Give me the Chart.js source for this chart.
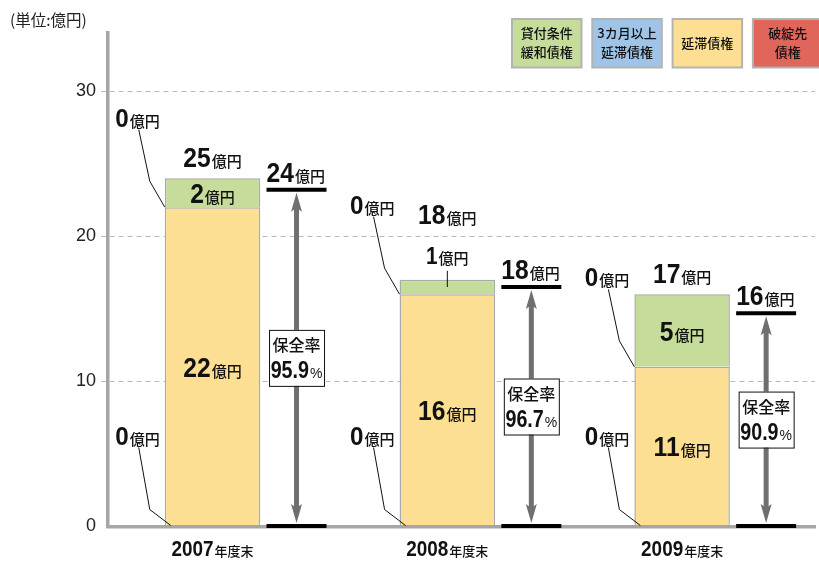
<!DOCTYPE html>
<html><head><meta charset="utf-8">
<script src="https://cdn.jsdelivr.net/npm/chart.js@4"></script>
<style>html,body{margin:0;padding:0;background:#fff}#wrap{width:819px;height:561px}</style>
</head><body><div id="wrap"><canvas id="c" width="819" height="561"></canvas></div>
<script>
// ---- data ----
const years = ['2007', '2008', '2009'];
const yearSuffix = '年度末';
const hatan = [0, 0, 0];          // 破綻先債権
const entai = [22, 16, 11];       // 延滞債権
const sankagetsu = [0, 0, 0];     // 3カ月以上延滞債権
const kanwa = [2, 1, 5];          // 貸付条件緩和債権
const totals = [25, 18, 17];      // 合計（表示値）
const securedPos = [23.2, 16.5, 14.7];   // 保全額の線の位置（図から読取）
const securedLabels = [24, 18, 16];      // 保全額（表示値）
const coverage = ['95.9', '96.7', '90.9']; // 保全率
const yTicks = [0, 10, 20, 30];
const unitText = '(単位:億円)';
const legendLines = {
  '破綻先債権': ['破綻先', '債権'],
  '延滞債権': ['延滞債権'],
  '3カ月以上延滞債権': ['3カ月以上', '延滞債権'],
  '貸付条件緩和債権': ['貸付条件', '緩和債権']
};

const xs = years.map((_, i) => i + 1);
const pts = arr => arr.map((v, i) => ({ x: xs[i], y: v }));
const CAT = 0.7155;
const barCommon = { stack: 'a', borderColor: '#a9a9a9', borderWidth: 1.5, barPercentage: 1.137, categoryPercentage: CAT };

const NUMF = s => `bold ${s}px "Liberation Sans", Arial, sans-serif`;
const CJKF = (s, w = 500) => `${w} ${s}px "Noto Sans CJK JP", sans-serif`;

function drawLabel(ctx, num, suf, x, baseline, ns, sufFont, align, sx) {
  ctx.save();
  ctx.font = NUMF(ns);
  const w1 = ctx.measureText(num).width * sx;
  ctx.font = sufFont;
  const w2 = ctx.measureText(suf).width;
  const total = w1 + 1 + w2;
  const left = align === 'center' ? x - total / 2 : (align === 'left' ? x : x - total);
  ctx.fillStyle = '#111';
  ctx.textAlign = 'left';
  ctx.textBaseline = 'alphabetic';
  ctx.save();
  ctx.font = NUMF(ns);
  ctx.translate(left, baseline);
  ctx.scale(sx, 1);
  ctx.fillText(num, 0, 0);
  ctx.restore();
  ctx.font = sufFont;
  ctx.fillText(suf, left + w1 + 1, baseline);
  ctx.restore();
}

function line(ctx, pts, w, c) {
  ctx.save();
  ctx.strokeStyle = c; ctx.lineWidth = w;
  ctx.beginPath();
  pts.forEach((p, i) => i ? ctx.lineTo(p[0], p[1]) : ctx.moveTo(p[0], p[1]));
  ctx.stroke();
  ctx.restore();
}

const overlay = {
  id: 'overlay',
  afterDraw(chart) {
    const ctx = chart.ctx;
    const ds = chart.data.datasets;
    // unit
    ctx.save();
    ctx.fillStyle = '#222';
    ctx.font = CJKF(15.5, 400);
    ctx.textBaseline = 'middle';
    ctx.fillText(unitText, 10, 20);
    ctx.restore();

    // legend boxes (top of stack first)
    const order = [3, 2, 1, 0];
    order.forEach((d, k) => {
      const left = 512 + k * 80.3, top = 19, w = 69.5, h = 48.5;
      ctx.save();
      ctx.fillStyle = ds[d].backgroundColor;
      ctx.fillRect(left, top, w, h);
      ctx.strokeStyle = '#b3b3b3'; ctx.lineWidth = 2;
      ctx.strokeRect(left, top, w, h);
      ctx.fillStyle = '#111';
      ctx.font = CJKF(13, 500);
      ctx.textAlign = 'center'; ctx.textBaseline = 'middle';
      const ls = legendLines[ds[d].label];
      if (ls.length === 1) ctx.fillText(ls[0], left + w / 2, top + 24);
      else { ctx.fillText(ls[0], left + w / 2, top + 14.5); ctx.fillText(ls[1], left + w / 2, top + 33.5); }
      ctx.restore();
    });

    years.forEach((yr, i) => {
      const els = [0, 1, 2, 3].map(d => chart.getDatasetMeta(d).data[i]);
      const cx = els[1].x;
      const L = cx - els[1].width / 2;
      const topY = Math.min(...els.map(e => e.y));
      let smallBase = null;

      // zero-value segments: external labels with leaders
      [0, 2].forEach(d => {
        const v = ds[d].data[i].y;
        if (v !== 0) return;
        const el = els[d];
        const ay = el.y;
        const bl = d === 0 ? ay - 82 : ay - 80.5;
        drawLabel(ctx, String(v), '億円', L - 49.5, bl, 25, CJKF(15), 'left', 0.97);
        if (d === 0) line(ctx, [[L - 26, bl + 3], [L - 15, ay - 17], [L + 6, ay - 1]], 1, '#111');
        else line(ctx, [[L - 26, bl + 3], [L - 15, ay - 26], [L, ay]], 1, '#111');
      });

      // positive segments
      [1, 3].forEach(d => {
        const v = ds[d].data[i].y;
        if (!(v > 0)) return;
        const el = els[d];
        const h = el.base - el.y;
        const my = (el.y + el.base) / 2;
        if (h >= 24) {
          drawLabel(ctx, String(v), '億円', cx, my + 10, 28, CJKF(15), 'center', 0.88);
        } else {
          smallBase = topY - 16;
          drawLabel(ctx, String(v), '億円', cx, smallBase, 23, CJKF(15), 'center', 0.9);
          line(ctx, [[cx, smallBase + 7], [cx, my]], 1, '#111');
        }
      });

      // total
      const tb = smallBase !== null ? smallBase - 40 : topY - 11;
      drawLabel(ctx, String(totals[i]), '億円', cx, tb, 28, CJKF(15), 'center', 0.88);

      // secured amount marker
      const s = chart.getDatasetMeta(4).data[i];
      const ax = s.x, sw = s.width;
      const sl = ax - sw / 2;
      ctx.save();
      ctx.fillStyle = '#6f6f6f';
      const tTop = s.y + 3, tBot = s.base - 3;
      ctx.fillRect(ax - 2.5, tTop + 14, 5, tBot - tTop - 28);
      ctx.beginPath();
      ctx.moveTo(ax, tTop); ctx.lineTo(ax + 5.5, tTop + 19); ctx.lineTo(ax, tTop + 15); ctx.lineTo(ax - 5.5, tTop + 19); ctx.closePath();
      ctx.fill();
      ctx.beginPath();
      ctx.moveTo(ax, tBot); ctx.lineTo(ax + 5.5, tBot - 19); ctx.lineTo(ax, tBot - 15); ctx.lineTo(ax - 5.5, tBot - 19); ctx.closePath();
      ctx.fill();
      ctx.restore();
      line(ctx, [[sl, s.y], [sl + sw, s.y]], 4, '#000');
      line(ctx, [[sl, s.base], [sl + sw, s.base]], 4, '#000');
      drawLabel(ctx, String(securedLabels[i]), '億円', sl, s.y - 8, 28, CJKF(15), 'left', 0.88);

      // coverage box
      const mid = (s.y + s.base) / 2;
      ctx.save();
      ctx.fillStyle = '#fff';
      ctx.fillRect(ax - 27.5, mid - 28, 55, 56);
      ctx.strokeStyle = '#111'; ctx.lineWidth = 1;
      ctx.strokeRect(ax - 27.5 + 0.5, mid - 28 + 0.5, 55, 56);
      ctx.fillStyle = '#111';
      ctx.font = CJKF(16, 500);
      ctx.textAlign = 'center'; ctx.textBaseline = 'middle';
      ctx.fillText('保全率', ax, mid - 13);
      ctx.restore();
      drawLabel(ctx, coverage[i], '%', ax, mid + 20, 24, '14px "Liberation Sans", Arial, sans-serif', 'center', 0.82);

      // category label
      drawLabel(ctx, yr, yearSuffix, cx, 556, 22, CJKF(13), 'center', 0.86);
    });
  }
};

new Chart(document.getElementById('c'), {
  type: 'bar',
  data: {
    datasets: [
      { label: '破綻先債権', data: pts(hatan), backgroundColor: '#e0655b', ...barCommon },
      { label: '延滞債権', data: pts(entai), backgroundColor: '#fddf93', ...barCommon },
      { label: '3カ月以上延滞債権', data: pts(sankagetsu), backgroundColor: '#9fc4e7', ...barCommon },
      { label: '貸付条件緩和債権', data: pts(kanwa), backgroundColor: '#c5dc9b', ...barCommon },
      { label: '保全額', data: pts(securedPos), stack: 'b', backgroundColor: 'rgba(0,0,0,0)', borderWidth: 0, barPercentage: 0.714, categoryPercentage: CAT }
    ]
  },
  options: {
    responsive: false,
    devicePixelRatio: 1,
    animation: false,
    events: [],
    layout: { padding: { left: 0, right: 4, top: 33, bottom: 34.5 } },
    plugins: { legend: { display: false }, tooltip: { enabled: false }, title: { display: false } },
    scales: {
      x: {
        type: 'linear', min: 0.376, max: 3.387, stacked: true, offset: false,
        afterBuildTicks: s => { s.ticks = xs.map(v => ({ value: v })); },
        ticks: { display: false },
        grid: { display: false, drawTicks: false },
        border: { display: true, color: '#a6a6a6', width: 3.5, z: 1 },
        afterFit: s => { s.height = 0; }
      },
      y: {
        type: 'linear', min: 0, max: 34, stacked: true,
        afterBuildTicks: s => { s.ticks = yTicks.map(v => ({ value: v })); },
        ticks: { color: '#222', font: { family: '"Liberation Sans", Arial, sans-serif', size: 18 }, padding: 5 },
        grid: {
          color: c => (c.tick && c.tick.value === 0) ? 'rgba(0,0,0,0)' : '#b8b8b8',
          tickColor: c => (c.tick && c.tick.value === 0) ? 'rgba(0,0,0,0)' : '#b8b8b8',
          lineWidth: 1, tickLength: 7, tickBorderDash: []
        },
        border: { display: true, color: '#a6a6a6', width: 3.5, dash: [5, 4], z: 1 },
        afterFit: s => { s.width = 108; }
      }
    }
  },
  plugins: [overlay]
});
</script>
</body></html>
